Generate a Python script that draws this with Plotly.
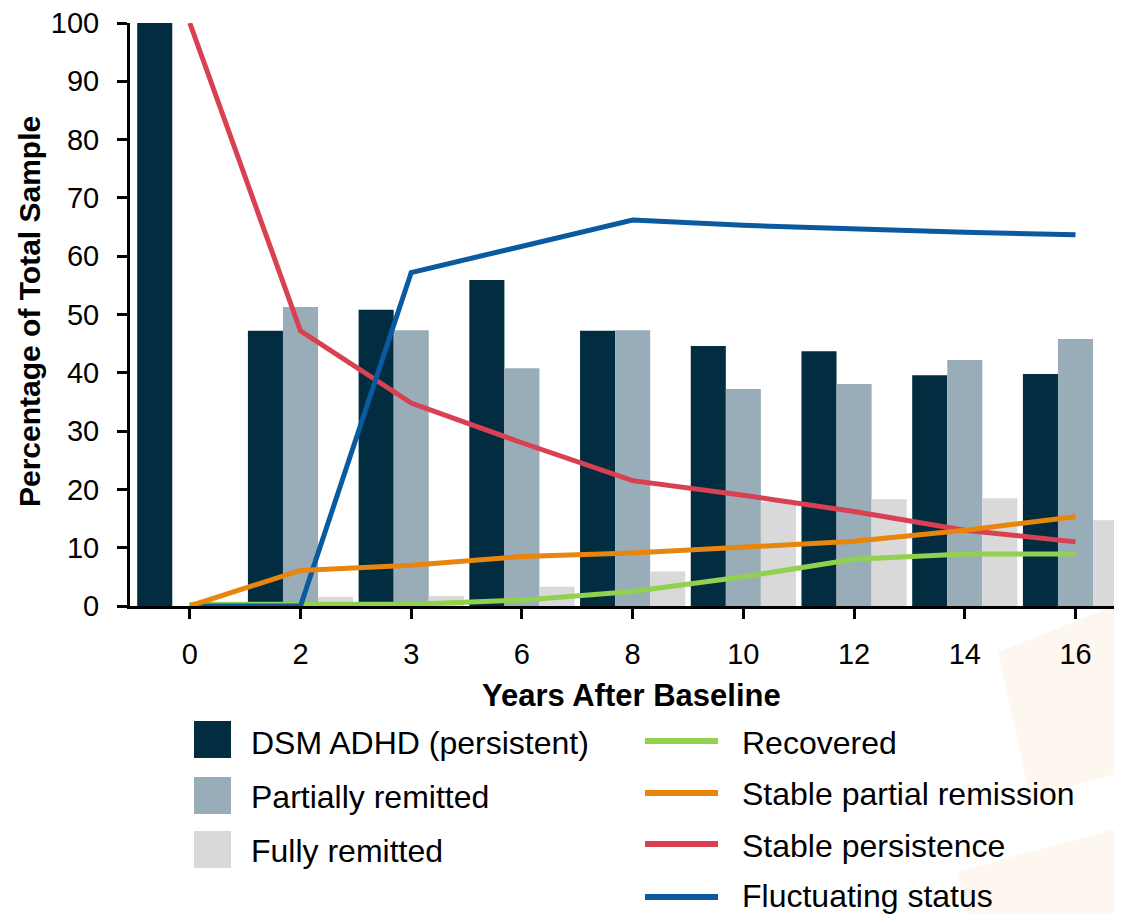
import plotly.graph_objects as go

# ---- data ----
years = ["0", "2", "3", "6", "8", "10", "12", "14", "16"]
dsm_persistent = [100, 47.2, 50.8, 55.9, 47.2, 44.6, 43.7, 39.6, 39.8]
partially_remitted = [0, 51.3, 47.3, 40.8, 47.3, 37.2, 38.1, 42.2, 45.8]
fully_remitted = [0, 1.6, 1.7, 3.3, 5.9, 17.9, 18.3, 18.5, 14.7]

recovered = [0.3, 0.4, 0.3, 1.0, 2.5, 5.0, 8.0, 8.9, 8.9]
stable_partial = [0, 6.1, 7.0, 8.5, 9.1, 10.2, 11.1, 13.0, 15.3]
stable_persistence = [100, 47.2, 34.8, 28.0, 21.5, 19.0, 16.2, 13.0, 11.0]
fluctuating = [0, 0, 57.2, 61.6, 66.2, 65.3, 64.6, 64.1, 63.7]

bar_names = ["DSM ADHD (persistent)", "Partially remitted", "Fully remitted"]
line_names = ["Recovered", "Stable partial remission", "Stable persistence", "Fluctuating status"]

C_DARK, C_PART, C_FULL = "#022d41", "#99adb8", "#d9d9d9"
C_GREEN, C_ORANGE, C_RED, C_BLUE = "#92d050", "#e8850c", "#d94052", "#0a5aa0"

FONT = "Liberation Sans, Arial, sans-serif"

# the page body adds an 8px margin; the figure is sized to fill the rest of the window
OFF = 8
WIN_W, WIN_H = 1122, 914
W, H = WIN_W - OFF, WIN_H - OFF
# plot area in window pixels: x 130..1122, y 23..606
PL, PR, PT, PB = 130, 1122, 23, 606
L, R, T, B = PL - OFF, WIN_W - PR, PT - OFF, WIN_H - PB
PW, PH = PR - PL, PB - PT


def px(x):
    return (x - PL) / PW


def py(y):
    return (PB - y) / PH


fig = go.Figure()
for name, vals, col in [(bar_names[0], dsm_persistent, C_DARK),
                        (bar_names[1], partially_remitted, C_PART),
                        (bar_names[2], fully_remitted, C_FULL)]:
    fig.add_trace(go.Bar(x=years, y=vals, name=name, marker=dict(color=col, line=dict(width=0)),
                         showlegend=False))

for name, vals, col in [(line_names[0], recovered, C_GREEN),
                        (line_names[2], stable_persistence, C_RED),
                        (line_names[3], fluctuating, C_BLUE),
                        (line_names[1], stable_partial, C_ORANGE)]:
    fig.add_trace(go.Scatter(x=years, y=vals, name=name, mode="lines",
                             line=dict(color=col, width=5), cliponaxis=False, showlegend=False))

shapes = []
# faint watermark in background
shapes.append(dict(type="path", xref="paper", yref="paper", layer="below", line=dict(width=0),
                   fillcolor="#fef7f0",
                   path=f"M {px(998)} {py(652)} L {px(1122)} {py(603)} L {px(1122)} {py(773)} L {px(1030)} {py(797)} Z"))
shapes.append(dict(type="path", xref="paper", yref="paper", layer="below", line=dict(width=0),
                   fillcolor="#fef7f0",
                   path=f"M {px(957)} {py(872)} L {px(1122)} {py(827)} L {px(1122)} {py(914)} L {px(968)} {py(914)} Z"))

annotations = []
# legend: squares for bars
sq_tops = [721, 777, 831]
txt_left_y = [743, 797, 851]
for (top, ty, name, col) in zip(sq_tops, txt_left_y, bar_names, [C_DARK, C_PART, C_FULL]):
    shapes.append(dict(type="rect", xref="paper", yref="paper", x0=px(194), x1=px(231),
                       y0=py(top), y1=py(top + 37), fillcolor=col, line=dict(width=0)))
    annotations.append(dict(text=name, xref="paper", yref="paper", x=px(249), y=py(ty),
                            xanchor="left", yanchor="middle", showarrow=False,
                            font=dict(family=FONT, size=32, color="#000")))
# legend: lines
line_y = [741, 793, 844, 897]
txt_right_y = [743, 794, 846, 896]
for (ly, ty, name, col) in zip(line_y, txt_right_y, line_names, [C_GREEN, C_ORANGE, C_RED, C_BLUE]):
    shapes.append(dict(type="line", xref="paper", yref="paper", x0=px(645), x1=px(718),
                       y0=py(ly), y1=py(ly), line=dict(color=col, width=6)))
    annotations.append(dict(text=name, xref="paper", yref="paper", x=px(740), y=py(ty),
                            xanchor="left", yanchor="middle", showarrow=False,
                            font=dict(family=FONT, size=32, color="#000")))

# axis titles
annotations.append(dict(text="<b>Years After Baseline</b>", xref="paper", yref="paper",
                        x=px(631), y=py(695), xanchor="center", yanchor="middle", showarrow=False,
                        font=dict(family=FONT, size=31, color="#000")))
annotations.append(dict(text="<b>Percentage of Total Sample</b>", xref="paper", yref="paper",
                        x=px(29), y=py(312), xanchor="center", yanchor="middle", showarrow=False,
                        textangle=-90, font=dict(family=FONT, size=30, color="#000")))

fig.update_layout(
    width=W, height=H, autosize=False,
    margin=dict(l=L, r=R, t=T, b=B, pad=0),
    paper_bgcolor="white", plot_bgcolor="rgba(0,0,0,0)",
    barmode="group", bargap=0.05, bargroupgap=0,
    font=dict(family=FONT, color="#000"),
    shapes=shapes, annotations=annotations,
    showlegend=False,
)
fig.update_xaxes(type="category", range=[-0.54, 8.42], showgrid=False, zeroline=False,
                 showline=True, linecolor="#000", linewidth=3,
                 ticks="outside", ticklen=10, tickwidth=3, tickcolor="#000",
                 tickfont=dict(family=FONT, size=29, color="#000"), ticklabelstandoff=10,
                 ticklabeloverflow="allow")
fig.update_yaxes(range=[0, 100], dtick=10, showgrid=False, zeroline=False,
                 showline=True, linecolor="#000", linewidth=3,
                 ticks="outside", ticklen=10, tickwidth=3, tickcolor="#000",
                 tickfont=dict(family=FONT, size=29, color="#000"), ticklabelstandoff=12,
                 ticklabeloverflow="allow")

fig.write_html("out.html")
